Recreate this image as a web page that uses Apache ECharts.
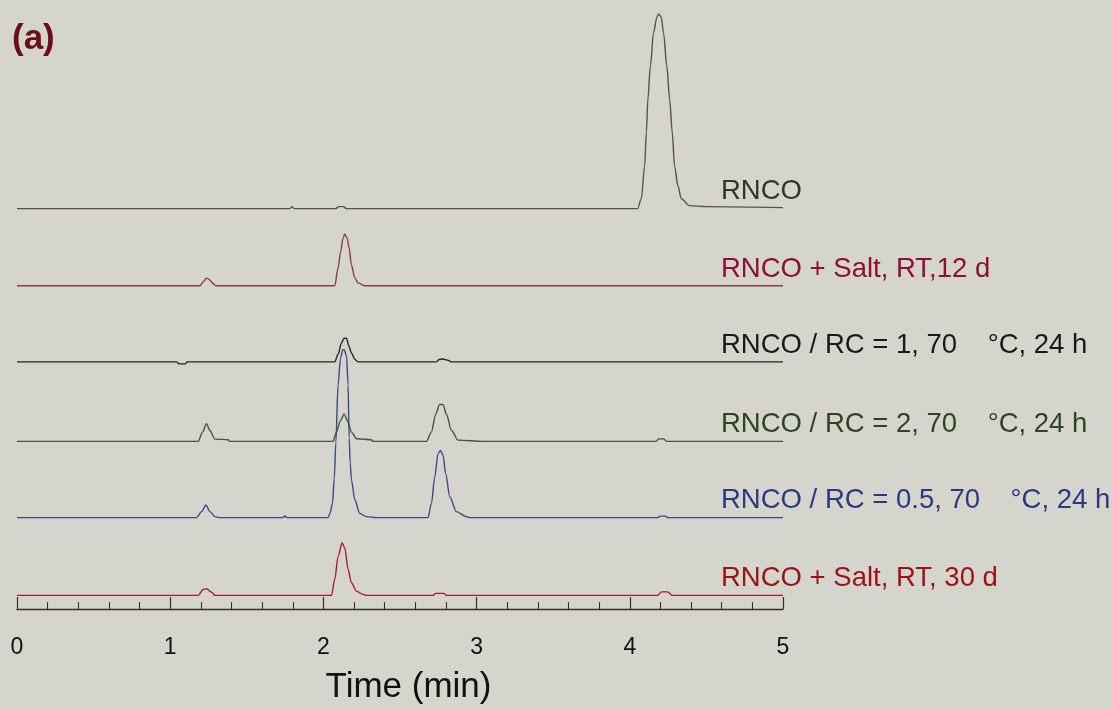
<!DOCTYPE html>
<html>
<head>
<meta charset="utf-8">
<script src="https://cdn.jsdelivr.net/npm/echarts@6/dist/echarts.min.js"></script>
<style>
html,body{margin:0;padding:0;background:#d5d5cd;}
#chart{width:1112px;height:710px;}
</style>
</head>
<body>
<div id="chart"></div>
<script>
// ---- Data (time in min, signal in arbitrary units) ----
const traceLabels = [
  'RNCO',
  'RNCO + Salt, RT,12 d',
  'RNCO / RC = 1, 70    \u00B0C, 24 h',
  'RNCO / RC = 2, 70    \u00B0C, 24 h',
  'RNCO / RC = 0.5, 70    \u00B0C, 24 h',
  'RNCO + Salt, RT, 30 d'
];
// vertical stacking offset (baseline) of each chromatogram, a.u.
const traceOffsets = [403, 325.3, 248.7, 168.7, 92, 13.7];

const rnco = [[0,0],[1.78,0],[1.795,2],[1.81,0],[2.08,0],[2.10,2],[2.13,2],[2.15,0],
  [4.051,0],[4.075,10],[4.097,43],[4.108,77],[4.118,110],[4.134,143],[4.155,177],[4.177,193],
  [4.188,196],[4.205,193],[4.220,177],[4.242,143],[4.260,110],[4.277,77],[4.292,43],[4.314,23],
  [4.336,10],[4.390,3],[4.501,2],[5,1]];
const salt12d = [[0,0],[1.194,0],[1.215,4],[1.237,7.7],[1.303,0],
  [2.074,0],[2.096,18],[2.112,34],[2.128,48],[2.140,52],[2.155,48],[2.168,38],[2.183,21],
  [2.205,8],[2.226,3],[2.270,0],[5,0]];
const rc1 = [[0,0],[1.042,0],[1.059,-2],[1.098,-2],[1.111,0],
  [2.074,0],[2.096,7.7],[2.118,19],[2.135,24],[2.151,23.7],[2.166,16],[2.183,9],[2.205,2.7],[2.226,0],
  [2.738,0],[2.755,2.5],[2.781,3],[2.813,1.7],[2.836,0],[5,0]];
const rc2 = [[0,0],[1.183,0],[1.211,9.3],[1.237,17.7],[1.259,11],[1.292,2.3],[1.378,1.7],[1.389,0],
  [2.063,0],[2.085,9.3],[2.112,21],[2.135,27.7],[2.161,19.3],[2.183,9.3],[2.216,2.7],[2.314,1.7],[2.324,0],
  [2.673,0],[2.705,9.3],[2.733,27.3],[2.759,37.3],[2.781,37],[2.803,27.3],[2.836,11],[2.879,1.3],[3.042,0],
  [4.17,0],[4.19,2.5],[4.22,2.5],[4.24,0],[5,0]];
const rc05 = [[0,0],[1.172,0],[1.205,6],[1.233,12.7],[1.259,6],[1.292,1],[1.324,0],
  [1.735,0],[1.748,1.7],[1.761,0],
  [2.031,0],[2.042,4],[2.059,14],[2.071,40],[2.081,75],[2.096,134],[2.112,161],[2.127,169],[2.135,169],
  [2.151,163],[2.161,134],[2.168,80],[2.175,55],[2.183,38],[2.205,18],[2.237,4.3],[2.281,1],[2.346,0],
  [2.683,0],[2.705,14.3],[2.727,41],[2.748,64.3],[2.764,67.7],[2.781,62.7],[2.798,44.3],[2.825,21],
  [2.868,6],[2.933,1],[2.955,0],[4.18,0],[4.2,1.5],[4.23,1.5],[4.25,0],[5,0]];
const salt30d = [[0,0],[1.183,0],[1.215,6],[1.237,6.7],[1.270,3.3],[1.292,0],
  [2.053,0],[2.074,16],[2.096,39.3],[2.122,52.7],[2.140,47.7],[2.161,26],[2.183,12.7],[2.216,4.3],
  [2.259,1],[2.281,0],[2.714,0],[2.733,2],[2.785,2],[2.805,0],
  [4.181,0],[4.207,3.5],[4.247,3.5],[4.279,0],[5,0]];
const traceSignals = [rnco, salt12d, rc1, rc2, rc05, salt30d];

const xTickLabels = ['0','1','2','3','4','5'];
const xAxisTitle = 'Time (min)';
const panelTitle = '(a)';

// ---- Styles ----
const lineColors  = ['#4b5a3c', '#8c3a4a', '#262424', '#43553a', '#3a4a84', '#a42020'];
const labelColors = ['#2c3a1e', '#8e1030', '#1a1818', '#2d4420', '#2a3a7e', '#9c1212'];
const FONT = '"Liberation Sans", Arial, Helvetica, sans-serif';
const labelT = 4.592;   // where the trace captions start (min)
const labelLift = 17;   // caption centre above baseline (a.u.)

const series = traceSignals.map((sig, i) => ({
  type: 'line',
  name: traceLabels[i],
  data: sig.map(p => [p[0], p[1] + traceOffsets[i]]),
  showSymbol: false,
  symbol: 'none',
  smooth: 0.3,
  smoothMonotone: 'x',
  clip: false,
  lineStyle: { color: lineColors[i], width: 1.4 },
  markPoint: {
    symbol: 'circle',
    symbolSize: 1,
    itemStyle: { color: 'rgba(0,0,0,0)' },
    silent: true,
    data: [{ coord: [labelT, traceOffsets[i] + labelLift] }],
    label: {
      show: true,
      position: 'right',
      distance: 0,
      formatter: traceLabels[i],
      color: labelColors[i],
      fontSize: 27.5,
      fontFamily: FONT
    }
  }
}));

const chart = echarts.init(document.getElementById('chart'), null, { renderer: 'canvas' });
chart.setOption({
  animation: false,
  backgroundColor: '#d5d5cd',
  title: {
    text: panelTitle,
    left: 7,
    top: 17,
    textStyle: { color: '#6b0e1a', fontSize: 35, fontWeight: 'bold', fontFamily: FONT }
  },
  grid: { left: 17, right: 329, top: 0, bottom: 97, containLabel: false },
  xAxis: {
    type: 'value',
    min: 0, max: 5, interval: 1,
    name: xAxisTitle,
    nameLocation: 'middle',
    nameGap: 61,
    nameTextStyle: { color: '#111', fontSize: 35, fontFamily: FONT, padding: [0, 0, 0, 17] },
    axisLine: { show: true, onZero: false, lineStyle: { color: '#3a2c2a', width: 1.3 } },
    axisTick: { show: true, inside: true, length: 12, lineStyle: { color: '#3a2c2a', width: 1.2 } },
    minorTick: { show: true, splitNumber: 5, length: 7, lineStyle: { color: '#3a2c2a', width: 1.1 } },
    splitLine: { show: false },
    minorSplitLine: { show: false },
    axisLabel: {
      margin: 27,
      color: '#111',
      fontSize: 23,
      fontFamily: FONT,
      formatter: v => xTickLabels[Math.round(v)]
    }
  },
  yAxis: { type: 'value', min: 0, max: 613, show: false },
  series: series
});
</script>
</body>
</html>
